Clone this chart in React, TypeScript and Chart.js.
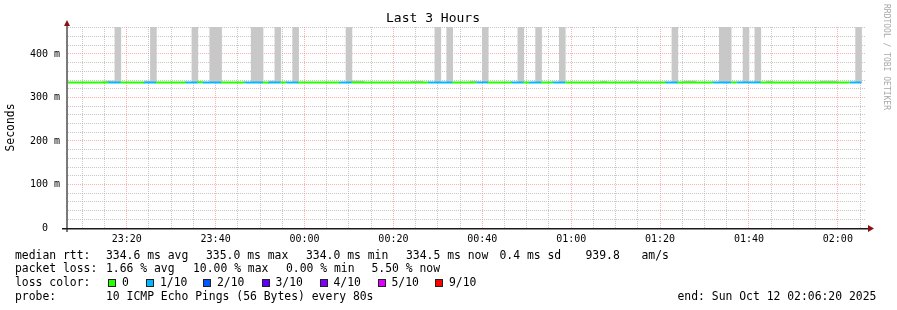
import React, { useEffect, useRef } from "react";
import { Chart, registerables } from "chart.js";

Chart.register(...registerables);

const FONT = "'DejaVu Sans Mono', monospace";

// ---------- time range & ticks ----------
const rangeStart = "23:06:20";
const rangeEnd = "02:06:20";
const stepSeconds = 80;
const xTickLabels = ["23:20", "23:40", "00:00", "00:20", "00:40", "01:00", "01:20", "01:40", "02:00"];
const yTickValues = [0, 100, 200, 300, 400];
const yTickLabels = ["0  ", "100 m", "200 m", "300 m", "400 m"];
const yTop = 462;

// ---------- median RTT line, segments coloured by packet loss ----------
const medianStart = [
  "23:06:40", "23:16:00", "23:18:40", "23:24:00", "23:26:40", "23:33:20", "23:36:00", "23:37:20",
  "23:41:20", "23:46:40", "23:50:40", "23:52:00", "23:54:40", "23:56:00", "23:58:40", "00:08:00",
  "00:10:40", "00:28:00", "00:33:20", "00:38:40", "00:41:20", "00:46:40", "00:49:20", "00:50:40",
  "00:53:20", "00:56:00", "00:58:40", "01:21:20", "01:24:00", "01:32:00", "01:36:00", "01:37:20",
  "01:42:40", "02:02:40",
];
const medianLastEnd = "02:05:20";
const medianLoss = [0, 1, 0, 1, 0, 1, 0, 1, 0, 1, 0, 1, 0, 1, 0, 1, 0, 1, 0, 1, 0, 1, 0, 1, 0, 1, 0, 1, 0, 1, 0, 1, 0, 1];
const medianRtt = [
  334.6, 334.5, 334.6, 334.7, 334.6, 334.5, 334.6, 334.8, 334.6, 334.5, 334.7, 334.6, 334.5, 334.6,
  334.7, 334.6, 334.5, 334.6, 334.7, 334.6, 334.6, 334.5, 334.6, 334.7, 334.6, 334.5, 334.6, 334.6,
  334.7, 334.5, 334.6, 334.6, 334.6, 334.5,
];

// ---------- smoke: outlier pings going off the top of the scale ----------
const spikeStart = [
  "23:17:20", "23:25:20", "23:34:40", "23:38:40", "23:48:00", "23:53:20", "23:57:20", "00:09:20",
  "00:29:20", "00:32:00", "00:40:00", "00:48:00", "00:52:00", "00:57:20", "01:22:40", "01:33:20",
  "01:38:40", "01:41:20", "02:04:00",
];
const spikeEnd = [
  "23:18:40", "23:26:40", "23:36:00", "23:41:20", "23:50:40", "23:54:40", "23:58:40", "00:10:40",
  "00:30:40", "00:33:20", "00:41:20", "00:49:20", "00:53:20", "00:58:40", "01:24:00", "01:36:00",
  "01:40:00", "01:42:40", "02:05:20",
];
const spikeLow = [336, 336, 336, 336, 336, 336, 336, 336, 336, 336, 336, 336, 336, 336, 336, 336, 336, 336, 336];
const spikeHigh = [462, 462, 462, 462, 462, 462, 462, 462, 462, 462, 462, 462, 462, 462, 462, 462, 462, 462, 462];

// ---------- smoke: small spread just above the median ----------
const shoulderStart = ["23:14:40", "23:24:00", "23:52:00", "00:10:40", "00:24:00", "00:37:20", "01:06:40", "01:13:20", "01:25:20", "01:44:00", "01:56:00"];
const shoulderEnd = ["23:17:20", "23:25:20", "23:53:20", "00:13:20", "00:26:40", "00:38:40", "01:08:00", "01:14:40", "01:28:00", "01:45:20", "02:00:00"];
const shoulderLow = [334.5, 334.5, 334.5, 334.5, 334.5, 334.5, 334.5, 334.5, 334.5, 334.5, 334.5];
const shoulderHigh = [338, 338, 338, 338, 337.5, 338, 337.5, 338, 338, 338, 338];

// ---------- legend ----------
const lossColors = ["#26ff00", "#00b8ff", "#0059ff", "#5e00ff", "#7e00ff", "#dd00ff", "#ff0000"];
const lossLabels = ["0", "1/10", "2/10", "3/10", "4/10", "5/10", "9/10"];

function toMin(t: string): number {
  const [h, m, s = "0"] = t.split(":");
  let v = Number(h) * 60 + Number(m) + Number(s) / 60;
  if (v >= 720) v -= 1440;
  return v;
}

function expandSteps(starts: string[], ends: string[], lows: number[], highs: number[]) {
  const out: { x: number; y: [number, number] }[] = [];
  const step = stepSeconds / 60;
  starts.forEach((s, i) => {
    const a = toMin(s);
    const b = toMin(ends[i]);
    const n = Math.round((b - a) / step);
    for (let k = 0; k < n; k++) out.push({ x: a + step * (k + 0.5), y: [lows[i], highs[i]] });
  });
  return out;
}

const MAJOR_GRID = "rgba(255,110,110,0.55)";
const MINOR_GRID = "rgba(170,170,170,0.65)";

const axisPlugin = {
  id: "rrdAxes",
  afterDatasetsDraw(chart: any) {
    const { ctx, chartArea } = chart;
    const left = chartArea.left;
    const bottom = chartArea.bottom;
    ctx.save();
    // y axis
    ctx.fillStyle = "#7a7a7a";
    ctx.fillRect(left, chartArea.top - 3, 2, bottom - chartArea.top + 7);
    // x axis
    ctx.fillStyle = "#1a1a1a";
    ctx.fillRect(left - 4, bottom, chartArea.right - left + 6, 1.5);
    // arrows
    ctx.fillStyle = "#8b1010";
    ctx.beginPath();
    ctx.moveTo(left - 2, chartArea.top - 1);
    ctx.lineTo(left + 4, chartArea.top - 1);
    ctx.lineTo(left + 1, chartArea.top - 7);
    ctx.closePath();
    ctx.fill();
    ctx.beginPath();
    ctx.moveTo(chartArea.right + 2, bottom - 3);
    ctx.lineTo(chartArea.right + 2, bottom + 4);
    ctx.lineTo(chartArea.right + 8, bottom + 0.5);
    ctx.closePath();
    ctx.fill();
    ctx.restore();
  },
};

export default function App() {
  const ref = useRef<HTMLCanvasElement>(null);

  useEffect(() => {
    const xMin = toMin(rangeStart);
    const xMax = toMin(rangeEnd);

    const linePts = medianStart.map((s, i) => ({ x: toMin(s), y: medianRtt[i] }));
    linePts.push({ x: toMin(medianLastEnd), y: medianRtt[medianRtt.length - 1] });

    const chart = new Chart(ref.current as HTMLCanvasElement, {
      type: "bar",
      data: {
        datasets: [
          {
            type: "line",
            label: "median rtt",
            data: linePts,
            xAxisID: "x",
            yAxisID: "y",
            borderWidth: 2,
            pointRadius: 0,
            fill: false,
            tension: 0,
            stepped: "after",
            borderColor: lossColors[0],
            segment: {
              borderColor: (c: any) => lossColors[medianLoss[c.p0DataIndex]] || lossColors[0],
            },
          } as any,
          {
            type: "bar",
            label: "smoke",
            data: expandSteps(spikeStart, spikeEnd, spikeLow, spikeHigh),
            xAxisID: "x",
            yAxisID: "y",
            backgroundColor: "#c8c8c8",
            borderWidth: 0,
            grouped: false,
            barPercentage: 1,
            categoryPercentage: 1,
          } as any,
          {
            type: "bar",
            label: "smoke small",
            data: expandSteps(shoulderStart, shoulderEnd, shoulderLow, shoulderHigh),
            xAxisID: "x",
            yAxisID: "y",
            backgroundColor: "#c8c8c8",
            borderWidth: 0,
            grouped: false,
            barPercentage: 1,
            categoryPercentage: 1,
          } as any,
        ],
      },
      options: {
        responsive: false,
        animation: false,
        devicePixelRatio: 1,
        layout: { padding: { left: 0, right: 31, top: 0, bottom: 0 } },
        font: { family: FONT },
        plugins: {
          legend: { display: false },
          tooltip: { enabled: false },
          title: {
            display: true,
            text: "Last 3 Hours",
            color: "#000",
            font: { family: FONT, size: 13, weight: "normal", lineHeight: 1 },
            padding: { top: 12, bottom: 2 },
          },
        },
        scales: {
          x: {
            type: "linear",
            position: "bottom",
            min: xMin,
            max: xMax,
            offset: false,
            afterBuildTicks: (s: any) => {
              s.ticks = xTickLabels.map((l) => ({ value: toMin(l) }));
            },
            afterFit: (s: any) => {
              s.height = 82;
            },
            ticks: {
              autoSkip: false,
              maxRotation: 0,
              padding: 5,
              color: "#000",
              font: { family: FONT, size: 10 },
              callback: (v: any) => {
                const i = xTickLabels.findIndex((l) => Math.abs(toMin(l) - Number(v)) < 1e-6);
                return i >= 0 ? xTickLabels[i] : "";
              },
            },
            grid: { offset: false, color: MAJOR_GRID, drawTicks: false },
            border: { display: false, dash: [1, 1] },
          },
          xMinor: {
            type: "linear",
            position: "bottom",
            min: xMin,
            max: xMax,
            offset: false,
            afterBuildTicks: (s: any) => {
              const t: { value: number }[] = [];
              for (let v = Math.ceil(xMin / 5) * 5; v < xMax; v += 5) t.push({ value: v });
              s.ticks = t;
            },
            afterFit: (s: any) => {
              s.height = 0;
            },
            ticks: { display: false },
            grid: {
              offset: false,
              color: MINOR_GRID,
              drawTicks: false,
              lineWidth: (c: any) => (c.tick && Math.abs(c.tick.value % 20) < 1e-6 ? 0 : 1),
            },
            border: { display: false, dash: [1, 1] },
          },
          y: {
            type: "linear",
            position: "left",
            min: 0,
            max: yTop,
            afterBuildTicks: (s: any) => {
              s.ticks = yTickValues.map((v) => ({ value: v }));
            },
            afterFit: (s: any) => {
              s.width = 66;
            },
            ticks: {
              padding: 6,
              color: "#000",
              font: { family: FONT, size: 10 },
              callback: (v: any) => {
                const i = yTickValues.indexOf(Number(v));
                return i >= 0 ? yTickLabels[i] : "";
              },
            },
            grid: {
              color: MAJOR_GRID,
              drawTicks: false,
              lineWidth: (c: any) => (c.tick && c.tick.value === 0 ? 0 : 1),
            },
            border: { display: false, dash: [1, 1] },
            title: {
              display: true,
              text: "Seconds",
              color: "#000",
              font: { family: FONT, size: 11.4 },
              padding: { top: 4, bottom: 0 },
            },
          },
          yMinor: {
            type: "linear",
            position: "left",
            min: 0,
            max: yTop,
            afterBuildTicks: (s: any) => {
              const t: { value: number }[] = [];
              for (let v = 20; v < yTop; v += 20) t.push({ value: v });
              s.ticks = t;
            },
            afterFit: (s: any) => {
              s.width = 0;
            },
            ticks: { display: false },
            grid: {
              color: MINOR_GRID,
              drawTicks: false,
              lineWidth: (c: any) => (c.tick && c.tick.value % 100 === 0 ? 0 : 1),
            },
            border: { display: false, dash: [1, 1] },
          },
        },
      } as any,
      plugins: [axisPlugin],
    });
    return () => chart.destroy();
  }, []);

  const txt: React.CSSProperties = {
    position: "absolute",
    fontFamily: FONT,
    fontSize: "11.4px",
    lineHeight: "14px",
    color: "#000",
    whiteSpace: "pre",
    margin: 0,
  };
  const T = (x: number, y: number, s: string, key: string) => (
    <div key={key} style={{ ...txt, left: x, top: y }}>
      {s}
    </div>
  );
  const boxX = [108, 146, 203, 261.5, 319.5, 377.5, 435];

  return (
    <div style={{ position: "fixed", left: 0, top: 0, width: 897, height: 310, background: "#fff", overflow: "hidden" }}>
      <canvas ref={ref} width={897} height={310} style={{ position: "absolute", left: 0, top: 0, width: 897, height: 310 }} />
      {T(15, 247.5, "median rtt:", "a0")}
      {T(106, 247.5, "334.6 ms avg", "a1")}
      {T(206, 247.5, "335.0 ms max", "a2")}
      {T(306, 247.5, "334.0 ms min", "a3")}
      {T(406, 247.5, "334.5 ms now", "a4")}
      {T(499.5, 247.5, "0.4 ms sd", "a5")}
      {T(585.5, 247.5, "939.8", "a6")}
      {T(641.5, 247.5, "am/s", "a7")}

      {T(15, 261, "packet loss:", "b0")}
      {T(106, 261, "1.66 % avg", "b1")}
      {T(193, 261, "10.00 % max", "b2")}
      {T(286, 261, "0.00 % min", "b3")}
      {T(371.5, 261, "5.50 % now", "b4")}

      {T(15, 275.3, "loss color:", "c0")}
      {lossLabels.map((l, i) => (
        <React.Fragment key={"l" + i}>
          <div
            style={{
              position: "absolute",
              left: boxX[i],
              top: 279,
              width: 8,
              height: 8,
              boxSizing: "border-box",
              border: "1px solid #222",
              background: lossColors[i],
            }}
          />
          {T(boxX[i] + 14, 275.3, l, "ct" + i)}
        </React.Fragment>
      ))}

      {T(15, 289, "probe:", "d0")}
      {T(106, 289, "10 ICMP Echo Pings (56 Bytes) every 80s", "d1")}
      {T(677.5, 289, "end: Sun Oct 12 02:06:20 2025", "d2")}

      <div
        style={{
          position: "absolute",
          left: 881,
          top: 4,
          writingMode: "vertical-rl",
          fontFamily: FONT,
          fontSize: "8px",
          lineHeight: "10px",
          color: "#a8a8a8",
          whiteSpace: "pre",
        }}
      >
        RRDTOOL / TOBI OETIKER
      </div>
    </div>
  );
}
